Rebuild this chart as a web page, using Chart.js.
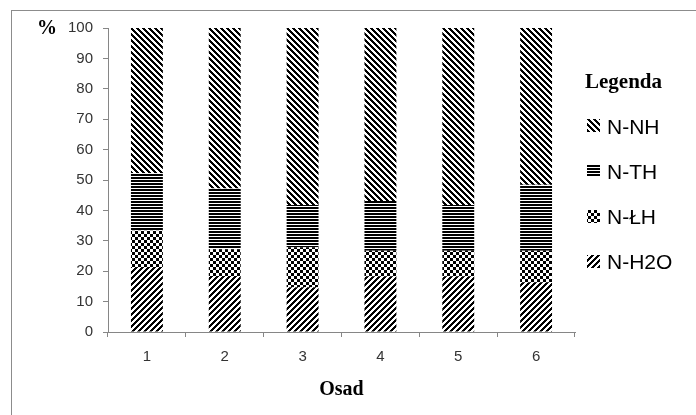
<!DOCTYPE html>
<html>
<head>
<meta charset="utf-8">
<script src="https://cdn.jsdelivr.net/npm/chart.js@4.4.1/dist/chart.umd.min.js"></script>
<style>
  html, body { margin: 0; padding: 0; background: #fff; }
  #wrap { width: 696px; height: 415px; }
</style>
</head>
<body>
<div id="wrap"><canvas id="wykres"></canvas></div>
<script>
// Dane (udział procentowy form azotu)
const kategorie = ['1', '2', '3', '4', '5', '6'];
const nH2O = [21.4, 18.4, 14.7, 18.2, 18.2, 16.2];
const nLH  = [11.9, 8.8, 13.2, 8.5, 8.5, 10.5];
const nTH  = [18.9, 20.0, 13.9, 16.4, 15.1, 21.7];
const nNH  = [47.8, 52.8, 58.2, 56.9, 58.2, 51.6];
const etykiety = ['N-H2O', 'N-ŁH', 'N-TH', 'N-NH'];

// Wzory (kreskowanie) rysowane piksel po pikselu
function wzor(rozmiar, czyCzarny) {
    const c = document.createElement('canvas');
    c.width = rozmiar;
    c.height = rozmiar;
    const g = c.getContext('2d');
    g.fillStyle = '#fff';
    g.fillRect(0, 0, rozmiar, rozmiar);
    g.fillStyle = '#000';
    for (let x = 0; x < rozmiar; x++) {
        for (let y = 0; y < rozmiar; y++) {
            if (czyCzarny(x, y)) g.fillRect(x, y, 1, 1);
        }
    }
    return g.createPattern(c, 'repeat');
}

const wzorH2O = wzor(6, (x, y) => (x + y) % 6 < 3);                 // ukośne /
const wzorLH  = wzor(6, (x, y) => (Math.floor(x / 3) + Math.floor(y / 3)) % 2 === 0); // szachownica
const wzorTH  = wzor(3, (x, y) => y % 3 < 2);                       // poziome
const wzorNH  = wzor(6, (x, y) => ((x - y) % 6 + 6) % 6 < 3);       // ukośne \

// Ramka, znak % i legenda
const dodatki = {
    id: 'dodatki',
    beforeDraw(chart) {
        const ctx = chart.ctx;
        ctx.save();
        ctx.strokeStyle = '#8c8c8c';
        ctx.lineWidth = 1;
        ctx.strokeRect(11.5, 10.5, 720, 440);
        ctx.restore();
    },
    afterDraw(chart) {
        const ctx = chart.ctx;
        ctx.save();
        ctx.fillStyle = '#000';
        ctx.textAlign = 'left';
        ctx.textBaseline = 'alphabetic';
        ctx.font = 'bold 20px "Liberation Serif"';
        ctx.fillText('%', 37, 34);
        ctx.font = 'bold 21px "Liberation Serif"';
        ctx.fillText('Legenda', 585, 88);

        const zestawy = chart.data.datasets.slice().reverse();
        zestawy.forEach((ds, i) => {
            const y = 126 + i * 45.3;
            ctx.fillStyle = ds.backgroundColor;
            ctx.fillRect(587, Math.round(y - 7), 13, 13);
            ctx.fillStyle = '#000';
            ctx.font = '21px "Liberation Sans"';
            ctx.fillText(ds.label, 607, y + 7.5);
        });
        ctx.restore();
    }
};

const ctx = document.getElementById('wykres').getContext('2d');

const wykres = new Chart(ctx, {
    type: 'bar',
    data: {
        labels: kategorie,
        datasets: [
            { label: etykiety[0], data: nH2O, backgroundColor: wzorH2O },
            { label: etykiety[1], data: nLH,  backgroundColor: wzorLH },
            { label: etykiety[2], data: nTH,  backgroundColor: wzorTH },
            { label: etykiety[3], data: nNH,  backgroundColor: wzorNH }
        ]
    },
    options: {
        responsive: true,
        maintainAspectRatio: false,
        animation: false,
        layout: { padding: { left: 0, top: 28, right: 121, bottom: 0 } },
        datasets: {
            bar: { categoryPercentage: 1, barPercentage: 0.41, borderWidth: 0 }
        },
        plugins: {
            legend: { display: false },
            tooltip: { enabled: false }
        },
        scales: {
            x: {
                stacked: true,
                grid: { drawOnChartArea: false, tickLength: 5, color: '#868686', offset: true },
                border: { color: '#868686' },
                ticks: { color: '#333', font: { family: 'Liberation Sans', size: 15 }, padding: 11 },
                title: {
                    display: true,
                    text: 'Osad',
                    color: '#000',
                    font: { family: 'Liberation Serif', size: 20, weight: 'bold' },
                    padding: { top: 4, bottom: 13 }
                },
                afterFit: s => { s.height = 83; }
            },
            y: {
                stacked: true,
                min: 0,
                max: 100,
                grid: { drawOnChartArea: false, tickLength: 5, color: '#868686' },
                border: { color: '#868686' },
                ticks: { stepSize: 10, color: '#333', font: { family: 'Liberation Sans', size: 15 }, padding: 10 },
                afterFit: s => { s.width = 108; }
            }
        }
    },
    plugins: [dodatki]
});
</script>
</body>
</html>
